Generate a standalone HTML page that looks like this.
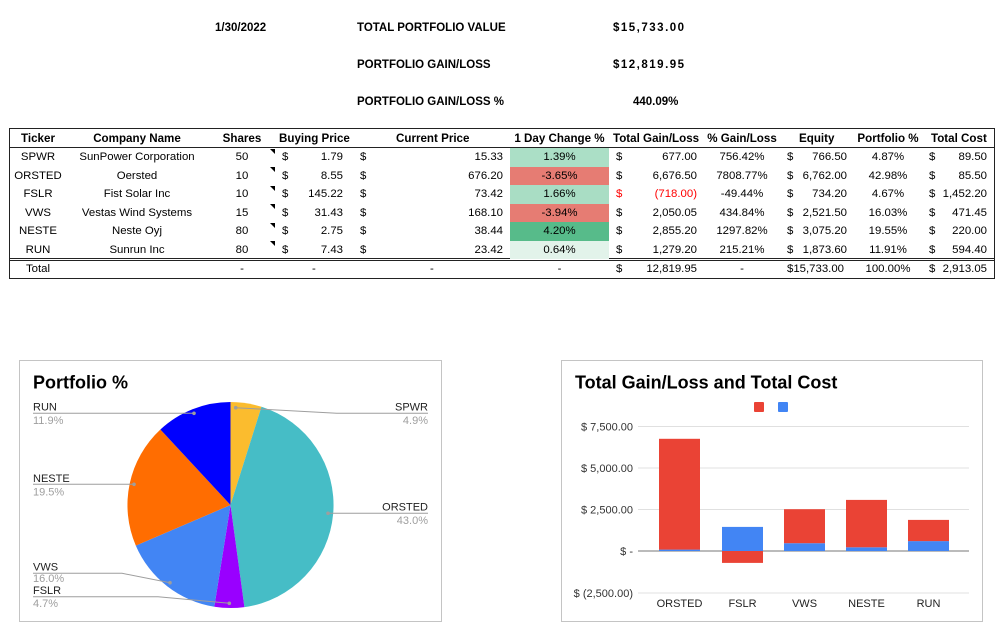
<!DOCTYPE html>
<html><head><meta charset="utf-8">
<style>
*{margin:0;padding:0;box-sizing:border-box}
body{width:1005px;height:632px;background:#fff;position:relative;overflow:hidden;font-family:"Liberation Sans",Arial,sans-serif;color:#000}
.a{position:absolute;white-space:nowrap}
.h{font-weight:bold;font-size:11.5px;line-height:14px}
.n{letter-spacing:1.5px}
.row{position:absolute;left:0;width:1005px;height:18.5px;font-size:11.4px;line-height:18.5px}
.row div{position:absolute;top:0;height:18.5px;white-space:nowrap}
.hdr{font-weight:bold;font-size:11.6px}
.c1{left:10px;width:56px;text-align:center}
.c2{left:67px;width:140px;text-align:center}
.c3{left:212px;width:60px;text-align:center}
.c4a{left:282px}
.c4b{left:285px;width:58px;text-align:right}
.c5a{left:360px}
.c5b{left:380px;width:123px;text-align:right}
.c6{left:510px;width:99px;text-align:center}
.c7a{left:616px}
.c7b{left:625px;width:72px;text-align:right}
.c8{left:700px;width:84px;text-align:center}
.c9a{left:787px}
.c9b{left:792px;width:55px;text-align:right}
.c10{left:850px;width:76px;text-align:center}
.c11a{left:929px}
.c11b{left:932px;width:55px;text-align:right}
.tri{position:absolute;left:270px;width:0;height:0;border-top:5px solid #000;border-left:5px solid transparent}
.red{color:#ff0000}
</style></head><body>

<div class="a h" style="left:215px;top:20.5px">1/30/2022</div>
<div class="a h" style="left:357px;top:20.5px">TOTAL PORTFOLIO VALUE</div>
<div class="a h n" style="left:613px;top:20.5px">$15,733.00</div>
<div class="a h" style="left:357px;top:57.5px">PORTFOLIO GAIN/LOSS</div>
<div class="a h n" style="left:613px;top:57.5px">$12,819.95</div>
<div class="a h" style="left:357px;top:94.5px">PORTFOLIO GAIN/LOSS %</div>
<div class="a h" style="left:633px;top:94.5px">440.09%</div>

<!-- table frame -->
<div class="a" style="left:9px;top:128px;width:986px;height:151px;border:1.5px solid #222"></div>
<div class="a" style="left:9px;top:147px;width:986px;height:1px;background:#222"></div>
<div class="a" style="left:9px;top:258px;width:986px;height:3px;border-top:1px solid #222;border-bottom:1px solid #222"></div>

<!-- colored cells -->
<div class="a" style="left:510px;top:148px;width:99px;height:18.5px;background:#abdfc6"></div>
<div class="a" style="left:510px;top:166.5px;width:99px;height:18.5px;background:#e67c73"></div>
<div class="a" style="left:510px;top:185px;width:99px;height:18.5px;background:#a9ddc4"></div>
<div class="a" style="left:510px;top:203.5px;width:99px;height:18.5px;background:#e67c73"></div>
<div class="a" style="left:510px;top:222px;width:99px;height:18.5px;background:#57bb8a"></div>
<div class="a" style="left:510px;top:240.5px;width:99px;height:18px;background:#e2f3ea"></div>

<div class="tri" style="top:148.5px"></div>
<div class="tri" style="top:167px"></div>
<div class="tri" style="top:185.5px"></div>
<div class="tri" style="top:204px"></div>
<div class="tri" style="top:222.5px"></div>
<div class="tri" style="top:241px"></div>

<div class="row hdr" style="top:129.5px">
<div class="c1">Ticker</div><div class="c2">Company Name</div><div class="c3">Shares</div>
<div style="left:279px">Buying Price</div><div style="left:396px">Current Price</div>
<div class="c6">1 Day Change %</div><div style="left:613px">Total Gain/Loss</div>
<div class="c8">% Gain/Loss</div><div style="left:799px">Equity</div>
<div class="c10">Portfolio %</div><div style="left:931px">Total Cost</div>
</div>

<div class="row" style="top:148px">
<div class="c1">SPWR</div><div class="c2">SunPower Corporation</div><div class="c3">50</div>
<div class="c4a">$</div><div class="c4b">1.79</div><div class="c5a">$</div><div class="c5b">15.33</div>
<div class="c6">1.39%</div><div class="c7a">$</div><div class="c7b">677.00</div><div class="c8">756.42%</div>
<div class="c9a">$</div><div class="c9b">766.50</div><div class="c10">4.87%</div><div class="c11a">$</div><div class="c11b">89.50</div>
</div>
<div class="row" style="top:166.5px">
<div class="c1">ORSTED</div><div class="c2">Oersted</div><div class="c3">10</div>
<div class="c4a">$</div><div class="c4b">8.55</div><div class="c5a">$</div><div class="c5b">676.20</div>
<div class="c6">-3.65%</div><div class="c7a">$</div><div class="c7b">6,676.50</div><div class="c8">7808.77%</div>
<div class="c9a">$</div><div class="c9b">6,762.00</div><div class="c10">42.98%</div><div class="c11a">$</div><div class="c11b">85.50</div>
</div>
<div class="row" style="top:185px">
<div class="c1">FSLR</div><div class="c2">Fist Solar Inc</div><div class="c3">10</div>
<div class="c4a">$</div><div class="c4b">145.22</div><div class="c5a">$</div><div class="c5b">73.42</div>
<div class="c6">1.66%</div><div class="c7a red">$</div><div class="c7b red">(718.00)</div><div class="c8">-49.44%</div>
<div class="c9a">$</div><div class="c9b">734.20</div><div class="c10">4.67%</div><div class="c11a">$</div><div class="c11b">1,452.20</div>
</div>
<div class="row" style="top:203.5px">
<div class="c1">VWS</div><div class="c2">Vestas Wind Systems</div><div class="c3">15</div>
<div class="c4a">$</div><div class="c4b">31.43</div><div class="c5a">$</div><div class="c5b">168.10</div>
<div class="c6">-3.94%</div><div class="c7a">$</div><div class="c7b">2,050.05</div><div class="c8">434.84%</div>
<div class="c9a">$</div><div class="c9b">2,521.50</div><div class="c10">16.03%</div><div class="c11a">$</div><div class="c11b">471.45</div>
</div>
<div class="row" style="top:222px">
<div class="c1">NESTE</div><div class="c2">Neste Oyj</div><div class="c3">80</div>
<div class="c4a">$</div><div class="c4b">2.75</div><div class="c5a">$</div><div class="c5b">38.44</div>
<div class="c6">4.20%</div><div class="c7a">$</div><div class="c7b">2,855.20</div><div class="c8">1297.82%</div>
<div class="c9a">$</div><div class="c9b">3,075.20</div><div class="c10">19.55%</div><div class="c11a">$</div><div class="c11b">220.00</div>
</div>
<div class="row" style="top:240.5px">
<div class="c1">RUN</div><div class="c2">Sunrun Inc</div><div class="c3">80</div>
<div class="c4a">$</div><div class="c4b">7.43</div><div class="c5a">$</div><div class="c5b">23.42</div>
<div class="c6">0.64%</div><div class="c7a">$</div><div class="c7b">1,279.20</div><div class="c8">215.21%</div>
<div class="c9a">$</div><div class="c9b">1,873.60</div><div class="c10">11.91%</div><div class="c11a">$</div><div class="c11b">594.40</div>
</div>
<div class="row" style="top:260px">
<div class="c1">Total</div><div class="c3">-</div>
<div style="left:312px">-</div><div style="left:430px">-</div>
<div class="c6">-</div><div class="c7a">$</div><div class="c7b">12,819.95</div><div class="c8">-</div>
<div class="c9a">$15,733.00</div><div class="c10">100.00%</div><div class="c11a">$</div><div class="c11b">2,913.05</div>
</div>

<svg class="a" style="left:0;top:0" width="1005" height="632" viewBox="0 0 1005 632" font-family="Liberation Sans, Arial, sans-serif">
<!-- Pie chart box -->
<rect x="19.5" y="360.5" width="422" height="261" fill="#fff" stroke="#c4c4c4" stroke-width="1"/>
<text x="33" y="388.5" font-size="18" font-weight="bold" fill="#000">Portfolio %</text>
<path d="M230.5,505 L230.5,402 A103,103 0 0 1 261.5,406.8 Z" fill="#fbbc2e"/>
<path d="M230.5,505 L261.5,406.8 A103,103 0 0 1 244.4,607.1 Z" fill="#46bdc6"/>
<path d="M230.5,505 L244.4,607.1 A103,103 0 0 1 214.3,606.7 Z" fill="#9900ff"/>
<path d="M230.5,505 L214.3,606.7 A103,103 0 0 1 135.8,545.6 Z" fill="#4285f4"/>
<path d="M230.5,505 L135.8,545.6 A103,103 0 0 1 160.4,429.5 Z" fill="#ff6d01"/>
<path d="M230.5,505 L160.4,429.5 A103,103 0 0 1 230.5,402 Z" fill="#0000ff"/>
<g stroke="#9e9e9e" stroke-width="1" fill="none">
<polyline points="33,413.3 194,413.3"/>
<polyline points="235.7,407.7 336.7,413.3 428,413.3"/>
<polyline points="33,484.3 134,484.3"/>
<polyline points="328,513.3 428,513.3"/>
<polyline points="33,573.3 122,573.3 170,582.7"/>
<polyline points="33,596.7 158,596.7 229.3,603.3"/>
</g>
<g fill="#9e9e9e">
<circle cx="194" cy="413.3" r="1.8"/><circle cx="235.7" cy="407.7" r="1.8"/>
<circle cx="134" cy="484.3" r="1.8"/><circle cx="328" cy="513.3" r="1.8"/>
<circle cx="170" cy="582.7" r="1.8"/><circle cx="229.3" cy="603.3" r="1.8"/>
</g>
<g font-size="11" fill="#222">
<text x="33" y="410.5">RUN</text>
<text x="428" y="410.5" text-anchor="end">SPWR</text>
<text x="33" y="482">NESTE</text>
<text x="428" y="510.5" text-anchor="end">ORSTED</text>
<text x="33" y="570.5">VWS</text>
<text x="33" y="594">FSLR</text>
</g>
<g font-size="11" fill="#9e9e9e">
<text x="33" y="424">11.9%</text>
<text x="428" y="424" text-anchor="end">4.9%</text>
<text x="33" y="495.5">19.5%</text>
<text x="428" y="524" text-anchor="end">43.0%</text>
<text x="33" y="582">16.0%</text>
<text x="33" y="607">4.7%</text>
</g>

<!-- Bar chart box -->
<rect x="561.5" y="360.5" width="421" height="261" fill="#fff" stroke="#c4c4c4" stroke-width="1"/>
<text x="575" y="388.5" font-size="18" font-weight="bold" fill="#000">Total Gain/Loss and Total Cost</text>
<rect x="754" y="402" width="10" height="10" rx="1" fill="#ea4335"/>
<rect x="778" y="402" width="10" height="10" rx="1" fill="#4285f4"/>
<g stroke="#e0e0e0" stroke-width="1">
<line x1="638" y1="426.5" x2="969" y2="426.5"/>
<line x1="638" y1="468" x2="969" y2="468"/>
<line x1="638" y1="509.5" x2="969" y2="509.5"/>
<line x1="638" y1="593" x2="969" y2="593"/>
</g>
<g font-size="11" fill="#333" text-anchor="end">
<text x="633" y="430.5">$ 7,500.00</text>
<text x="633" y="472">$ 5,000.00</text>
<text x="633" y="513.5">$ 2,500.00</text>
<text x="633" y="555">$ -</text>
<text x="633" y="597">$ (2,500.00)</text>
</g>
<line x1="638" y1="551" x2="969" y2="551" stroke="#777" stroke-width="1"/>
<!-- bars -->
<rect x="659" y="549.6" width="41" height="1.4" fill="#4285f4"/>
<rect x="659" y="438.8" width="41" height="110.8" fill="#ea4335"/>
<rect x="722" y="526.9" width="41" height="24.1" fill="#4285f4"/>
<rect x="722" y="551" width="41" height="11.9" fill="#ea4335"/>
<rect x="784" y="543.2" width="41" height="7.8" fill="#4285f4"/>
<rect x="784" y="509.2" width="41" height="34" fill="#ea4335"/>
<rect x="846" y="547.3" width="41" height="3.7" fill="#4285f4"/>
<rect x="846" y="499.9" width="41" height="47.4" fill="#ea4335"/>
<rect x="908" y="541.1" width="41" height="9.9" fill="#4285f4"/>
<rect x="908" y="519.9" width="41" height="21.2" fill="#ea4335"/>
<g font-size="11" fill="#222" text-anchor="middle">
<text x="679.5" y="607">ORSTED</text>
<text x="742.5" y="607">FSLR</text>
<text x="804.5" y="607">VWS</text>
<text x="866.5" y="607">NESTE</text>
<text x="928.5" y="607">RUN</text>
</g>
</svg>
</body></html>
